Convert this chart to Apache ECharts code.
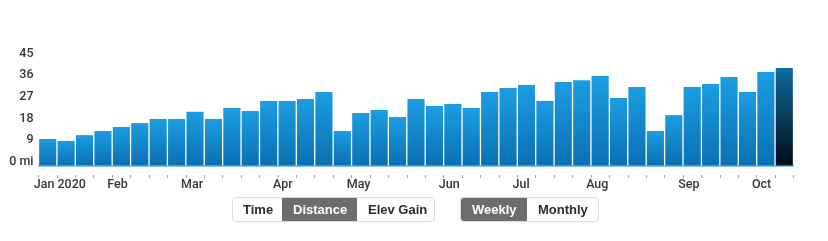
<!DOCTYPE html>
<html>
<head>
<meta charset="utf-8">
<script src="https://cdn.jsdelivr.net/npm/echarts@6/dist/echarts.min.js"></script>
<style>
  html, body { margin: 0; padding: 0; background: #fff; }
  #wrap { position: relative; width: 828px; height: 241px; overflow: hidden; }
  #chart { position: absolute; left: 0; top: 0; width: 828px; height: 241px; }
  .grp { position: absolute; top: 197px; height: 25px; display: flex; border: 1px solid #dcdcdc; border-radius: 4px; box-sizing: border-box; overflow: hidden; background: #fff; }
  .btn { font-family: "Liberation Sans", Arial, sans-serif; font-weight: bold; font-size: 13px; color: #2b2b2b; line-height: 23px; padding: 0 11px; white-space: nowrap; }
  .btn.sel { background: #6d6d6d; color: #fff; }
</style>
</head>
<body>
<div id="wrap">
  <div id="chart"></div>
  <div class="grp" style="left:232px; width:203px;">
    <div class="btn" style="width:51px;box-sizing:border-box;padding:0 0 0 10px;">Time</div>
    <div class="btn sel" style="width:75px;box-sizing:border-box;">Distance</div>
    <div class="btn" style="width:77px;box-sizing:border-box;">Elev Gain</div>
  </div>
  <div class="grp" style="left:460px; width:139px;">
    <div class="btn sel" style="width:66px;box-sizing:border-box;">Weekly</div>
    <div class="btn" style="width:73px;box-sizing:border-box;">Monthly</div>
  </div>
</div>
<script>
// Week start dates (Mondays)
const weeks = [
  '2019-12-30','2020-01-06','2020-01-13','2020-01-20','2020-01-27',
  '2020-02-03','2020-02-10','2020-02-17','2020-02-24','2020-03-02',
  '2020-03-09','2020-03-16','2020-03-23','2020-03-30','2020-04-06',
  '2020-04-13','2020-04-20','2020-04-27','2020-05-04','2020-05-11',
  '2020-05-18','2020-05-25','2020-06-01','2020-06-08','2020-06-15',
  '2020-06-22','2020-06-29','2020-07-06','2020-07-13','2020-07-20',
  '2020-07-27','2020-08-03','2020-08-10','2020-08-17','2020-08-24',
  '2020-08-31','2020-09-07','2020-09-14','2020-09-21','2020-09-28',
  '2020-10-05'
];
// Weekly distance (mi)
const distance = [
  11.0, 10.2, 12.6, 14.3, 16.0,
  17.6, 19.3, 19.3, 22.3, 19.3,
  23.8, 22.6, 26.8, 26.8, 27.6,
  30.5, 14.3, 21.8, 23.0, 20.1,
  27.6, 24.7, 25.5, 23.8, 30.5,
  32.1, 33.4, 26.8, 34.6, 35.4,
  37.1, 28.0, 32.6, 14.3, 20.9,
  32.6, 33.8, 36.7, 30.5, 38.8,
  40.4
];
// Month tick labels, one per week (blank where no label)
const tickLabels = [
  'Jan 2020','','','','Feb',
  '','','','Mar','',
  '','','','Apr','',
  '','','May','','',
  '','','Jun','','',
  '','Jul','','','',
  'Aug','','','','',
  'Sep','','','','Oct',
  ''
];
const yTicks = [0, 9, 18, 27, 36, 45];
const unit = 'mi';

const chart = echarts.init(document.getElementById('chart'), null, { renderer: 'canvas' });

const normalGrad = new echarts.graphic.LinearGradient(0, 0, 0, 1, [
  { offset: 0, color: '#1c9de3' },
  { offset: 1, color: '#0a70b2' }
]);
const selGrad = new echarts.graphic.LinearGradient(0, 0, 0, 1, [
  { offset: 0, color: '#0e6b9f' },
  { offset: 1, color: '#010d15' }
]);

const barData = distance.map((v, i) => i === distance.length - 1
  ? { value: v, itemStyle: { color: selGrad } }
  : { value: v });

const labelFont = 'Roboto, "Liberation Sans", Arial, sans-serif';

chart.setOption({
  animation: false,
  grid: { left: 38.5, right: 34.5, top: 57, bottom: 75.5 },
  yAxis: {
    type: 'value',
    min: yTicks[0],
    max: yTicks[yTicks.length - 1],
    interval: yTicks[1] - yTicks[0],
    splitLine: { show: false },
    axisLine: { show: false },
    axisTick: { show: false },
    axisLabel: {
      formatter: v => v === 0 ? '0 ' + unit : String(v),
      verticalAlign: 'bottom',
      align: 'right',
      margin: 5,
      padding: [0, 0, -3, 0],
      color: '#35353a',
      fontSize: 12.5,
      fontWeight: 500,
      fontFamily: labelFont
    }
  },
  xAxis: [
    {
      type: 'category',
      data: weeks,
      position: 'bottom',
      axisLine: { show: true, lineStyle: { color: '#5fb0e2', width: 1.5 } },
      axisTick: { show: false },
      axisLabel: { show: false }
    },
    {
      type: 'category',
      data: weeks,
      position: 'bottom',
      offset: 9.5,
      axisLine: { show: false },
      axisTick: { show: true, length: 3, interval: 0, lineStyle: { color: '#7fb8de', width: 1.2 } },
      axisLabel: {
        show: true,
        interval: 0,
        formatter: (val, idx) => tickLabels[idx],
        align: 'left',
        padding: [0, 0, 0, -14],
        margin: 3,
        color: '#35353a',
        fontSize: 12.5,
        fontWeight: 500,
        fontFamily: labelFont
      }
    }
  ],
  series: [{
    type: 'bar',
    xAxisIndex: 0,
    data: barData,
    barCategoryGap: '7%',
    itemStyle: { color: normalGrad },
    silent: true
  }]
});
</script>
</body>
</html>
